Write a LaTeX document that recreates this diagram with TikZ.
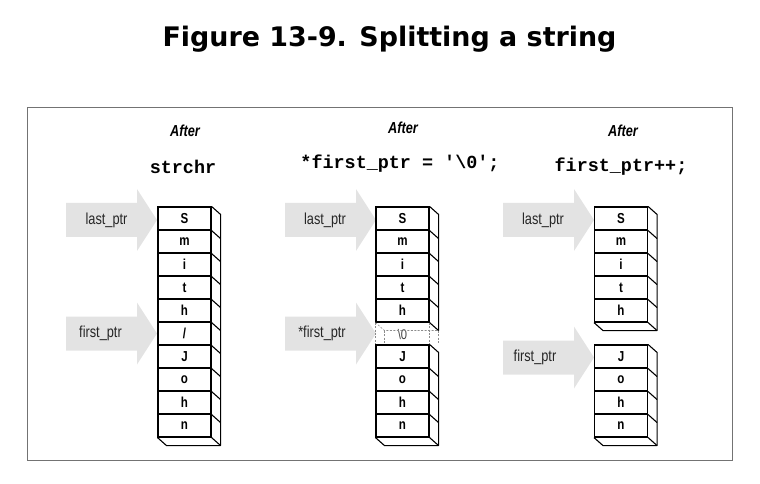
\documentclass[tikz,border=0pt]{standalone}
\usepackage{fontspec}
\setmainfont{DejaVu Sans}
\setmonofont{Liberation Mono}
\newfontfamily\narrowfont[FakeStretch=0.8]{Liberation Sans}
\usetikzlibrary{calc}

\tikzset{
  cell/.style={draw, line width=1.1pt, minimum width=53bp, minimum height=23bp, inner sep=0pt,
    font=\narrowfont\bfseries\fontsize{14.5}{14.5}\selectfont},
  edge3d/.style={line width=1.1pt, line join=round},
  ghost/.style={draw=black!45, dash pattern=on 2pt off 1.5pt, line width=0.6pt},
  ptrbody/.style={fill=black!11},
  ptrtext/.style={font=\narrowfont\fontsize{16}{16}\selectfont, text=black!85},
  aftertext/.style={font=\narrowfont\bfseries\itshape\fontsize{16}{16}\selectfont},
  codetext/.style={font=\ttfamily\bfseries\fontsize{18.5}{18.5}\selectfont},
}

% side and bottom of a column of cells
\newcommand{\cellside}[2]{%
  \draw[edge3d] (#1.north east) -- ++(9,8) -- ($(#2.south east)+(9,8)$)
    -- ($(#2.south west)+(9,8)$) -- (#2.south west);
}

\begin{document}
\begin{tikzpicture}[x=1bp, y=-1bp]
  \useasboundingbox (0,0) rectangle (760,484);

  \node[font=\bfseries\fontsize{27}{27}\selectfont, anchor=base] (title) at (389.5,47) {Figure 13-9. Splitting a string};
  \draw[black!55, line width=1.2pt] (27.3,107.3) rectangle (732.3,460.3);

  % pointer arrows
  \foreach \tx/\ty in {157/220, 157/333.5, 376/220, 376/333.5, 594/220, 594/357.5}
    \fill[ptrbody] (\tx-91,\ty-17) -- (\tx-20,\ty-17) -- (\tx-20,\ty-31) -- (\tx,\ty)
      -- (\tx-20,\ty+31) -- (\tx-20,\ty+17) -- (\tx-91,\ty+17) -- cycle;

  \node[ptrtext] (lastA) at (106.5,220) {last\_ptr};
  \node[ptrtext] (firstA) at (100.5,333) {first\_ptr};
  \node[ptrtext] (lastB) at (325,220) {last\_ptr};
  \node[ptrtext] (firstB) at (322,333) {*first\_ptr};
  \node[ptrtext] (lastC) at (543,220) {last\_ptr};
  \node[ptrtext] (firstC) at (535,357.5) {first\_ptr};

  \node[aftertext] (afterA) at (185,131) {After};
  \node[aftertext] (afterB) at (403,128) {After};
  \node[aftertext] (afterC) at (623,131) {After};
  \node[codetext] (codeA) at (183,167) {strchr};
  \node[codetext] (codeB) at (400,164) {*first\_ptr = '\textbackslash 0';};
  \node[codetext] (codeC) at (621,167) {first\_ptr++;};

  % after strchr
  \foreach \ch [count=\i] in {S,m,i,t,h,/,J,o,h,n}
    \node[cell] (a\i) at (184.5,195.5+23*\i) {\ch};
  \cellside{a1}{a10}
  \foreach \i in {1,...,10}
    \draw[edge3d] (a\i.south east) -- ++(9,8);

  % after *first_ptr = '\0'
  \foreach \ch [count=\i] in {S,m,i,t,h}
    \node[cell] (b\i) at (402.5,195.5+23*\i) {\ch};
  \foreach \ch [count=\i from 7] in {J,o,h,n}
    \node[cell] (b\i) at (402.5,195.5+23*\i) {\ch};
  \node[font=\narrowfont\fontsize{14}{14}\selectfont, text=black!75] (b6) at (402.5,334.5) {\textbackslash 0};
  \draw[edge3d] (b1.north east) -- ++(9,8) -- ($(b5.south east)+(9,8)$);
  \foreach \i in {1,...,5}
    \draw[edge3d] (b\i.south east) -- ++(9,8);
  \draw[ghost] (b5.south west) -- ++(9,8) -- ($(b5.south east)+(9,8)$);
  \draw[ghost] (b5.south west) -- (b7.north west);
  \draw[ghost] ($(b5.south west)+(9,8)$) -- ($(b7.north west)+(9,0)$);
  \draw[ghost] (b5.south east) -- (b7.north east);
  \draw[ghost] ($(b5.south east)+(9,8)$) -- ($(b7.north east)+(9,0)$);
  \cellside{b7}{b10}
  \foreach \i in {7,...,10}
    \draw[edge3d] (b\i.south east) -- ++(9,8);

  % after first_ptr++
  \foreach \ch [count=\i] in {S,m,i,t,h}
    \node[cell] (c\i) at (621,195.5+23*\i) {\ch};
  \foreach \ch [count=\i from 7] in {J,o,h,n}
    \node[cell] (c\i) at (621,195.5+23*\i) {\ch};
  \cellside{c1}{c5}
  \cellside{c7}{c10}
  \foreach \i in {1,...,5,7,8,9,10}
    \draw[edge3d] (c\i.south east) -- ++(9,8);
\end{tikzpicture}
\end{document}
